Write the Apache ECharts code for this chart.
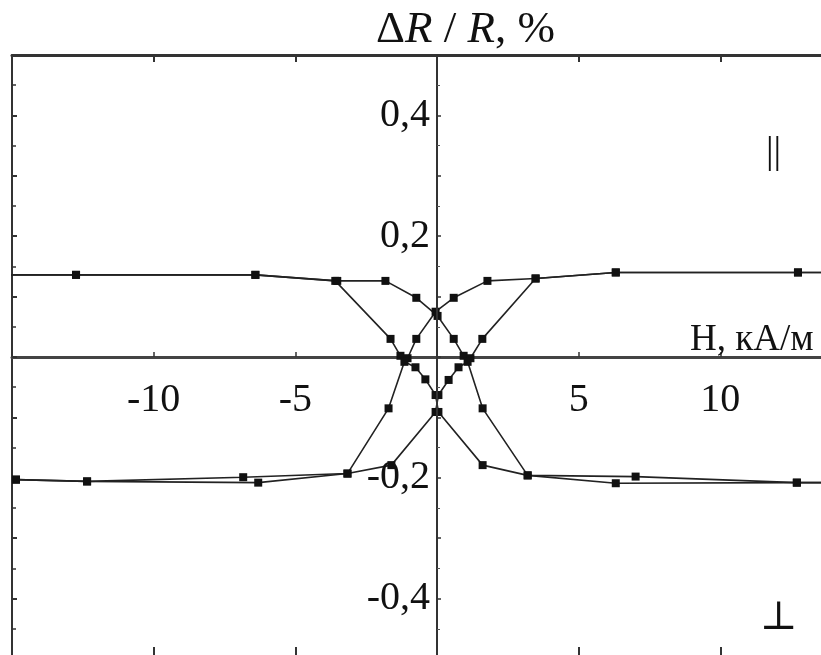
<!DOCTYPE html>
<html><head><meta charset="utf-8">
<script src="https://cdn.jsdelivr.net/npm/echarts@6/dist/echarts.min.js"></script>
<style>html,body{margin:0;padding:0;background:#fff}#c{width:821px;height:655px}</style>
</head><body><div id="c"></div>
<script>
// Tick labels
const xTickValues = [-10, -5, 5, 10];
const xTickLabels = ['-10', '-5', '5', '10'];
const yTickValues = [0.4, 0.2, -0.2, -0.4];
const yTickLabels = ['0,4', '0,2', '-0,2', '-0,4'];

// Parallel (||) geometry, sweep A and sweep B: H (kA/m), dR/R (%)
const parA_H = [-15.5, -12.74, -6.41, -3.59, -1.64, -1.29, -1.04, -0.73, -0.05, 0.59, 1.78, 3.48, 6.31, 12.74, 15.5];
const parA_R = [0.136, 0.136, 0.136, 0.126, 0.030, 0.002, -0.002, 0.030, 0.075, 0.098, 0.126, 0.130, 0.140, 0.140, 0.140];
const parB_H = [-15.5, -12.74, -6.41, -3.52, -1.82, -0.73, 0.02, 0.59, 0.94, 1.18, 1.60, 3.48, 6.31, 12.74, 15.5];
const parB_R = [0.136, 0.136, 0.136, 0.126, 0.126, 0.098, 0.068, 0.030, 0.002, -0.002, 0.030, 0.130, 0.140, 0.140, 0.140];

// Perpendicular (⊥) geometry, sweep A and sweep B
const perA_H = [-14.86, -12.35, -6.84, -3.16, -1.71, -1.15, -0.76, -0.41, -0.05, 0.05, 1.61, 3.20, 6.31, 12.70, 15.5];
const perA_R = [-0.203, -0.206, -0.199, -0.193, -0.085, -0.008, -0.017, -0.037, -0.063, -0.091, -0.179, -0.196, -0.209, -0.208, -0.208];
const perB_H = [-14.86, -12.35, -6.31, -3.16, -1.61, -0.05, 0.05, 0.41, 0.76, 1.08, 1.61, 3.20, 7.01, 12.70, 15.5];
const perB_R = [-0.203, -0.206, -0.208, -0.193, -0.179, -0.091, -0.063, -0.038, -0.017, -0.008, -0.085, -0.196, -0.198, -0.208, -0.208];

const zip = (a, b) => a.map((v, i) => [v, b[i]]);
const FONT = "'Liberation Serif', 'Times New Roman', 'DejaVu Serif', serif";
const lab = (vals, labs) => v => { const i = vals.findIndex(t => Math.abs(t - v) < 1e-6); return i >= 0 ? labs[i] : ''; };

const mkSeries = (name, H, R) => ({
  name, type: 'line', xAxisIndex: 0, yAxisIndex: 0, data: zip(H, R),
  symbol: 'rect', symbolSize: 8, clip: true,
  itemStyle: { color: '#111' },
  lineStyle: { color: '#222', width: 1.6 },
  emphasis: { disabled: true }, z: 2
});

// grid geometry: x from -15..15 over 850px starting at 12 -> zero at 437
// y from -0.5..0.5 over 604px starting at 55 -> zero at 357
const GRID = { left: 12, right: -41, top: 55, bottom: -4 };
const X_ZERO_OFFSET = -(437 - GRID.left);      // move y axis from left edge to x = 0
const Y_ZERO_OFFSET = -(659 - 357);            // move x axis from bottom edge to y = 0

const chart = echarts.init(document.getElementById('c'), null, { renderer: 'canvas' });
chart.setOption({
  animation: false,
  backgroundColor: '#fff',
  grid: Object.assign({ containLabel: false, outerBoundsMode: 'none' }, GRID),
  title: [
    { text: '{d|Δ}{i|R}{d| / }{i|R}{d|, %}', left: 376, top: 8, padding: 0,
      textStyle: { fontWeight: 'normal', rich: {
        d: { fontFamily: FONT, fontSize: 45, fontWeight: 'normal', color: '#111' },
        i: { fontFamily: FONT, fontSize: 45, fontWeight: 'normal', fontStyle: 'italic', color: '#111' } } } },
    { text: 'H, кА/м', left: 690, top: 322, padding: 0,
      textStyle: { fontFamily: FONT, fontSize: 37, fontWeight: 'normal', color: '#111' } },
    { text: '||', left: 766, top: 134, padding: 0,
      textStyle: { fontFamily: FONT, fontSize: 38, fontWeight: 'normal', color: '#111' } },
    { text: '⊥', left: 760, top: 598, padding: 0,
      textStyle: { fontFamily: FONT, fontSize: 40, fontWeight: 'normal', color: '#111' } }
  ],
  xAxis: [
    { type: 'value', min: -15, max: 15, interval: 5, position: 'bottom', offset: Y_ZERO_OFFSET,
      axisLine: { show: true, onZero: false, lineStyle: { color: '#444', width: 3 } },
      axisTick: { show: true, inside: true, length: 5, lineStyle: { color: '#333', width: 1.5 } },
      axisLabel: { show: true, margin: 23, fontFamily: FONT, fontSize: 40, color: '#111', formatter: lab(xTickValues, xTickLabels) },
      splitLine: { show: false } },
    { type: 'value', min: -15, max: 15, interval: 5, position: 'top',
      axisLine: { show: true, onZero: false, lineStyle: { color: '#333', width: 3 } },
      axisTick: { show: true, inside: true, length: 7, lineStyle: { color: '#333', width: 2 } },
      axisLabel: { show: false }, splitLine: { show: false } },
    { type: 'value', min: -15, max: 15, interval: 5, position: 'bottom',
      axisLine: { show: true, onZero: false, lineStyle: { color: '#333', width: 3 } },
      axisTick: { show: true, inside: true, length: 12, lineStyle: { color: '#333', width: 2 } },
      axisLabel: { show: false }, splitLine: { show: false } }
  ],
  yAxis: [
    { type: 'value', min: -0.5, max: 0.5, interval: 0.1, position: 'left', offset: X_ZERO_OFFSET, z: 3,
      axisLine: { show: true, onZero: false, lineStyle: { color: '#333', width: 2 } },
      axisTick: { show: true, inside: true, length: 4, lineStyle: { color: '#333', width: 1.5 } },
      minorTick: { show: true, splitNumber: 2, length: 3, lineStyle: { color: '#555', width: 1 } },
      axisLabel: { show: true, margin: 7, fontFamily: FONT, fontSize: 40, color: '#111', formatter: lab(yTickValues, yTickLabels) },
      splitLine: { show: false }, minorSplitLine: { show: false } },
    { type: 'value', min: -0.5, max: 0.5, interval: 0.1, position: 'left',
      axisLine: { show: true, onZero: false, lineStyle: { color: '#333', width: 2 } },
      axisTick: { show: true, inside: true, length: 5, lineStyle: { color: '#333', width: 2 } },
      minorTick: { show: true, splitNumber: 2, length: 4, lineStyle: { color: '#333', width: 1.5 } },
      axisLabel: { show: false }, splitLine: { show: false } }
  ],
  series: [
    mkSeries('par A', parA_H, parA_R),
    mkSeries('par B', parB_H, parB_R),
    mkSeries('perp A', perA_H, perA_R),
    mkSeries('perp B', perB_H, perB_R)
  ]
});
</script>
</body></html>
